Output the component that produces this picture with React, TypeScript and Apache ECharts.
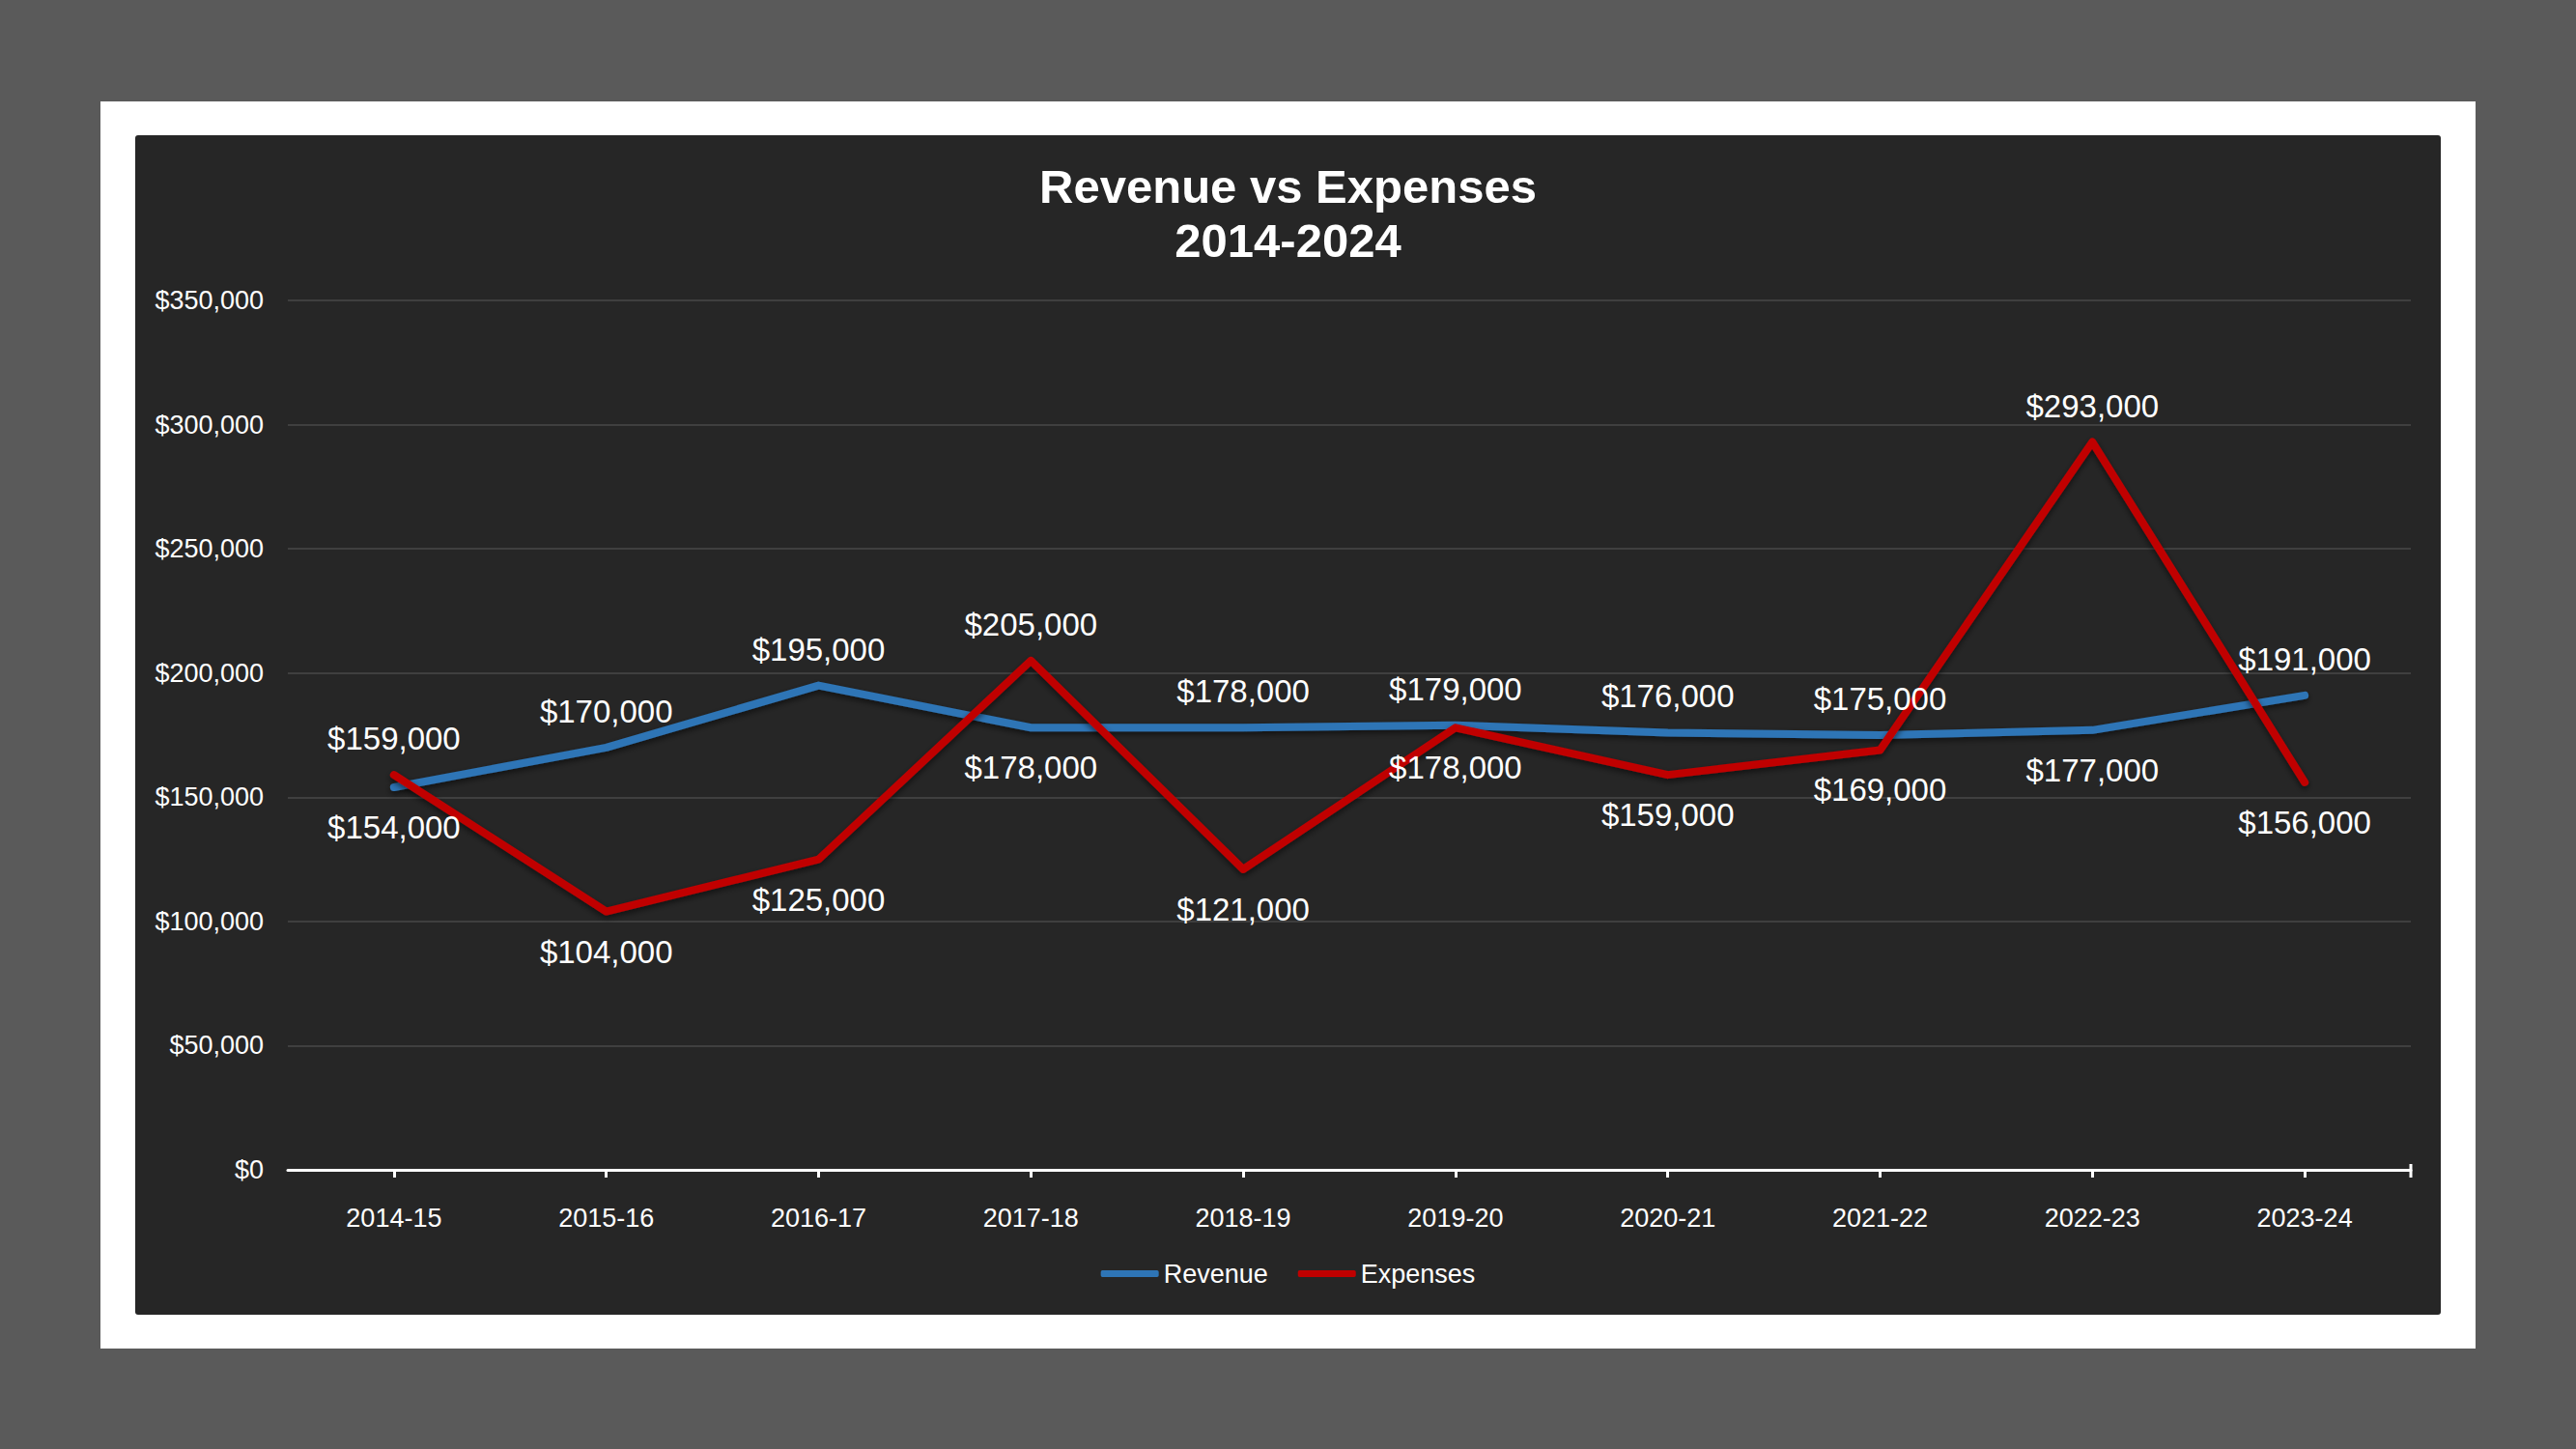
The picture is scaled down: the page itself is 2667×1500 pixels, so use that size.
import React, { useEffect, useRef } from "react";
import * as echarts from "echarts";

const categories = ["2014-15", "2015-16", "2016-17", "2017-18", "2018-19", "2019-20", "2020-21", "2021-22", "2022-23", "2023-24"];
const revenue = [154000, 170000, 195000, 178000, 178000, 179000, 176000, 175000, 177000, 191000];
const expenses = [159000, 104000, 125000, 205000, 121000, 178000, 159000, 169000, 293000, 156000];
const revenueLabelSide = ["bottom", "top", "top", "bottom", "top", "top", "top", "top", "bottom", "top"];
const expensesLabelSide = ["top", "bottom", "bottom", "top", "bottom", "bottom", "bottom", "bottom", "top", "bottom"];

const FONT = "'Liberation Sans', Arial, Helvetica, sans-serif";
const money = (v: number) => "$" + v.toLocaleString("en-US");

function buildData(values: number[], sides: string[]) {
  return values.map((v, i) => ({
    value: v,
    label: { position: sides[i], distance: sides[i] === "top" ? 21 : 25 },
  }));
}

export default function App() {
  const ref = useRef<HTMLDivElement>(null);
  useEffect(() => {
    if (!ref.current) return;
    const chart = echarts.init(ref.current, undefined, { renderer: "svg" });
    const lineSeries = (name: string, values: number[], sides: string[], color: string) => ({
      name,
      type: "line",
      data: buildData(values, sides),
      symbol: "circle",
      symbolSize: 0.01,
      showSymbol: true,
      lineStyle: {
        color,
        width: 8,
        cap: "round",
        join: "round",
        shadowColor: "rgba(0,0,0,0.55)",
        shadowBlur: 6,
        shadowOffsetY: 3,
      },
      itemStyle: { color },
      label: {
        show: true,
        color: "#ffffff",
        fontSize: 33,
        fontFamily: FONT,
        formatter: (p: any) => money(p.value),
      },
      labelLayout: { hideOverlap: false },
      z: 3,
    });
    chart.setOption({
      animation: false,
      backgroundColor: "transparent",
      title: {
        text: "Revenue vs Expenses\n2014-2024",
        left: "center",
        top: 160,
        textStyle: {
          color: "#ffffff",
          fontSize: 49,
          fontWeight: "bold",
          fontFamily: FONT,
          lineHeight: 56,
        },
      },
      grid: { left: 298, right: 171, top: 311, bottom: 289, containLabel: false },
      xAxis: {
        type: "category",
        data: categories,
        boundaryGap: true,
        axisLine: { show: true, lineStyle: { color: "#ffffff", width: 3 } },
        axisTick: { show: true, alignWithLabel: true, length: 8, lineStyle: { color: "#ffffff", width: 3 } },
        axisLabel: { color: "#ffffff", fontSize: 27, fontFamily: FONT, margin: 36 },
        splitLine: { show: false },
      },
      yAxis: {
        type: "value",
        min: 0,
        max: 350000,
        interval: 50000,
        axisLine: { show: false },
        axisTick: { show: false },
        axisLabel: { color: "#ffffff", fontSize: 27, fontFamily: FONT, margin: 25, formatter: (v: number) => money(v) },
        splitLine: { lineStyle: { color: "#3f3f3f", width: 2 } },
      },
      legend: {
        show: true,
        left: "center",
        top: 1300,
        itemWidth: 60,
        itemHeight: 7,
        itemGap: 31,
        icon: "roundRect",
        textStyle: { color: "#ffffff", fontSize: 27, fontFamily: FONT },
        data: ["Revenue", "Expenses"],
      },
      graphic: [
        {
          type: "line",
          shape: { x1: 2496, y1: 1205, x2: 2496, y2: 1219 },
          style: { stroke: "#ffffff", lineWidth: 3 },
          z: 100,
        },
      ],
      series: [
        lineSeries("Revenue", revenue, revenueLabelSide, "#2E75B6"),
        lineSeries("Expenses", expenses, expensesLabelSide, "#C00000"),
      ],
    });
    return () => chart.dispose();
  }, []);

  return (
    <div style={{ position: "fixed", left: 0, top: 0, width: 2667, height: 1500, background: "#5a5a5a" }}>
      <div style={{ position: "absolute", left: 104, top: 105, width: 2459, height: 1291, background: "#ffffff" }} />
      <div style={{ position: "absolute", left: 140, top: 140, width: 2387, height: 1221, background: "#262626", borderRadius: 3 }} />
      <div ref={ref} style={{ position: "absolute", left: 0, top: 0, width: 2667, height: 1500 }} />
    </div>
  );
}
